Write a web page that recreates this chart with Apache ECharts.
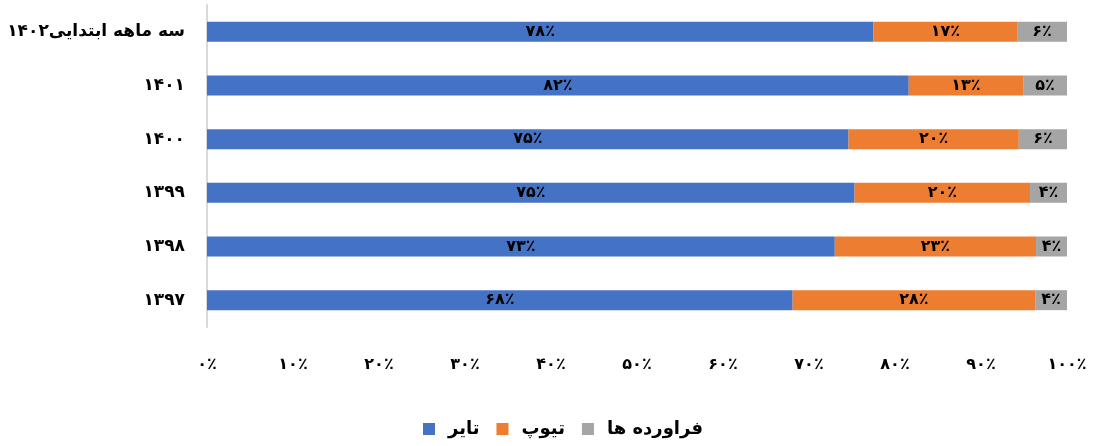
<!DOCTYPE html>
<html lang="fa">
<head>
    <meta charset="UTF-8">
    <title>سهم تایر، تیوپ و فراورده ها</title>
    <script src="https://cdn.jsdelivr.net/npm/echarts@6/dist/echarts.min.js"></script>
    <style>
        html, body { margin: 0; padding: 0; background: #fff; }
        #main { width: 1094px; height: 446px; }
    </style>
</head>
<body>
<div id="main"></div>
<script>
    // دسته ها از بالا به پایین
    var categories = ['سه ماهه ابتدایی۱۴۰۲', '۱۴۰۱', '۱۴۰۰', '۱۳۹۹', '۱۳۹۸', '۱۳۹۷'];
    var seriesNames = ['تایر', 'تیوپ', 'فراورده ها'];
    // درصدها (خوانده شده از تصویر)
    var tire     = [77.5, 81.6, 74.6, 75.3, 73.0, 68.1];
    var tube     = [16.7, 13.3, 19.8, 20.4, 23.4, 28.2];
    var products = [5.8, 5.1, 5.6, 4.3, 3.6, 3.7];
    var tickValues = [0, 10, 20, 30, 40, 50, 60, 70, 80, 90, 100];

    var colors = ['#4472C4', '#ED7D31', '#A5A5A5'];
    var font = "'DejaVu Sans', sans-serif";

    function toFa(n) {
        return String(n).replace(/[0-9]/g, function (d) {
            return '۰۱۲۳۴۵۶۷۸۹'[+d];
        });
    }

    var chart = echarts.init(document.getElementById('main'));

    var labelOpt = {
        show: true,
        position: 'inside',
        color: '#000',
        fontFamily: font,
        fontWeight: 'bold',
        fontSize: 16,
        formatter: function (p) { return toFa(Math.round(p.value)) + '٪'; }
    };

    var allData = [tire, tube, products];
    var series = seriesNames.map(function (name, i) {
        return {
            name: name,
            type: 'bar',
            stack: 'total',
            barWidth: 20,
            itemStyle: { color: colors[i] },
            label: labelOpt,
            data: allData[i]
        };
    });

    var option = {
        animation: false,
        textStyle: { fontFamily: font },
        grid: { left: 207, right: 27, top: 5, height: 322 },
        legend: {
            bottom: 3,
            left: 418,
            itemWidth: 12,
            itemHeight: 12,
            itemGap: 17,
            icon: 'rect',
            textStyle: {
                fontFamily: font, fontWeight: 'bold', fontSize: 18, color: '#000',
                padding: [0, 0, 0, 8]
            },
            data: seriesNames
        },
        xAxis: {
            type: 'value',
            min: tickValues[0],
            max: tickValues[tickValues.length - 1],
            interval: 10,
            axisLine: { show: false },
            axisTick: { show: false },
            splitLine: { show: false },
            axisLabel: {
                margin: 30,
                color: '#000',
                fontFamily: font,
                fontWeight: 'bold',
                fontSize: 16,
                formatter: function (v) { return toFa(v) + '٪'; }
            }
        },
        yAxis: {
            type: 'category',
            inverse: true,
            data: categories,
            axisLine: { show: true, lineStyle: { color: '#d9d9d9', width: 2 } },
            axisTick: { show: false },
            axisLabel: {
                margin: 22,
                color: '#000',
                fontFamily: font,
                fontWeight: 'bold',
                fontSize: 17
            }
        },
        series: series
    };

    chart.setOption(option);
</script>
</body>
</html>
